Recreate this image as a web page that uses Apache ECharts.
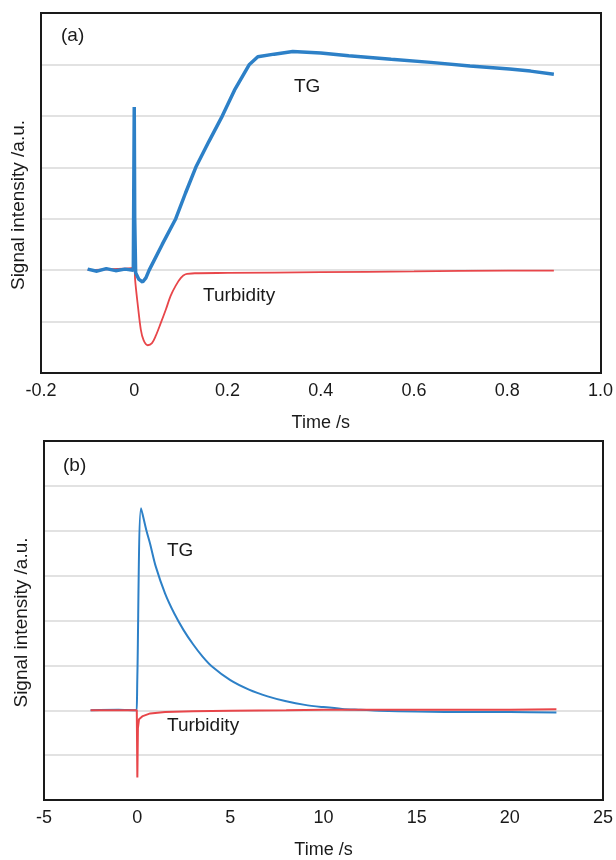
<!DOCTYPE html>
<html lang="en" style="height: 100%">
<head>
  <meta charset="utf-8">
</head>
<body style="height: 100%; margin: 0; background: #fff">
  <div id="container" style="width: 616px; height: 860px"></div>
  <script type="text/javascript" src="https://cdn.jsdelivr.net/npm/echarts@6/dist/echarts.min.js"></script>
  <script type="text/javascript">
    // panel (a): short time scale
    var tgA_t = [-0.1, -0.08, -0.06, -0.04, -0.02, -0.002, 0, 0.001, 0.003, 0.01, 0.018, 0.025, 0.032, 0.06, 0.089, 0.11, 0.132, 0.16, 0.189, 0.215, 0.247, 0.265, 0.3, 0.34, 0.4, 0.46, 0.551, 0.636, 0.72, 0.805, 0.85, 0.9];
    var tgA_v = [0.02, -0.02, 0.03, -0.01, 0.02, 0, 3.17, 1.0, -0.05, -0.18, -0.23, -0.15, 0, 0.5, 1.0, 1.5, 2.0, 2.5, 3.0, 3.5, 4.0, 4.15, 4.2, 4.25, 4.22, 4.17, 4.1, 4.04, 3.97, 3.91, 3.87, 3.81];
    var turbA_t = [-0.1, -0.05, -0.002, 0, 0.002, 0.007, 0.014, 0.02, 0.029, 0.038, 0.046, 0.056, 0.068, 0.078, 0.089, 0.1, 0.11, 0.13, 0.2, 0.4, 0.6, 0.8, 0.9];
    var turbA_v = [0, 0.02, 0.05, 0.18, -0.2, -0.63, -1.15, -1.36, -1.46, -1.42, -1.28, -1.05, -0.76, -0.5, -0.3, -0.15, -0.08, -0.06, -0.055, -0.04, -0.025, -0.01, -0.01];

    // panel (b): long time scale
    var tgB_t = [-2.5, -1, -0.02, 0, 0.01, 0.21, 0.5, 0.7, 1.0, 1.5, 2.0, 2.5, 3.0, 3.5, 4.0, 5.0, 6.0, 7.0, 8.0, 9.0, 10.0, 11.0, 12.0, 13.0, 15.0, 18.0, 20.0, 22.5];
    var tgB_v = [0, 0.01, 0, 0, 0.75, 4.5, 4.0, 3.7, 3.2, 2.6, 2.15, 1.78, 1.47, 1.2, 0.98, 0.67, 0.46, 0.31, 0.2, 0.12, 0.07, 0.03, 0.01, -0.01, -0.03, -0.04, -0.04, -0.05];
    var turbB_t = [-2.5, -0.02, 0, 0.01, 0.04, 0.1, 0.3, 0.7, 1.5, 3, 5, 8, 10, 13, 16, 20, 22.5];
    var turbB_v = [0, 0, 0, -1.5, -0.4, -0.2, -0.13, -0.07, -0.04, -0.02, -0.01, 0, 0.01, 0.01, 0.01, 0.01, 0.02];

    var xTicksA = [-0.2, 1.0, 0.2];
    var xTicksB = [-5, 25, 5];

    function pairs(t, v) {
      return t.map(function (x, i) { return [x, v[i]]; });
    }

    var blue = '#2d80c7';
    var red = '#e8464a';
    var ink = '#1a1a1a';
    var font = 'Liberation Sans, Arial, sans-serif';

    var dom = document.getElementById('container');
    var myChart = echarts.init(dom, null, { renderer: 'canvas' });

    function xAxisFor(idx, ticks, fmt) {
      return {
        gridIndex: idx,
        type: 'value',
        min: ticks[0],
        max: ticks[1],
        interval: ticks[2],
        name: 'Time /s',
        nameLocation: 'middle',
        nameGap: 41,
        nameTextStyle: { fontSize: 18, color: ink, fontFamily: font },
        axisLine: { show: false },
        axisTick: { show: false },
        splitLine: { show: false },
        axisLabel: { fontSize: 18, color: ink, fontFamily: font, margin: 9, formatter: fmt }
      };
    }

    function yAxisFor(idx, min, max, pad) {
      return {
        gridIndex: idx,
        type: 'value',
        min: min,
        max: max,
        interval: 1,
        name: 'Signal intensity /a.u.',
        nameLocation: 'middle',
        nameGap: 13,
        nameTextStyle: { fontSize: 19, color: ink, fontFamily: font, padding: pad },
        axisLine: { show: false },
        axisTick: { show: false },
        axisLabel: { show: false },
        splitLine: { lineStyle: { color: '#d9d9d9', width: 1.5 } }
      };
    }

    function txt(x, y, s) {
      return { type: 'text', left: x, top: y, z: 50, style: { text: s, fill: ink, font: '19px ' + font } };
    }

    function frame(x, y, w, h) {
      return { type: 'rect', z: 100, silent: true, shape: { x: x, y: y, width: w, height: h }, style: { fill: null, stroke: ink, lineWidth: 2 } };
    }

    var option = {
      animation: false,
      grid: [
        { left: 41, top: 13, width: 560, height: 360 },
        { left: 44, top: 441, width: 559, height: 359 }
      ],
      xAxis: [
        xAxisFor(0, xTicksA, function (v) { return v === 0 ? '0' : v.toFixed(1); }),
        xAxisFor(1, xTicksB, function (v) { return String(v); })
      ],
      yAxis: [
        yAxisFor(0, -2, 5, [0, 24, 0, 0]),
        yAxisFor(1, -2, 6, [0, 4, 0, 0])
      ],
      series: [
        { name: 'Turbidity (a)', type: 'line', xAxisIndex: 0, yAxisIndex: 0, data: pairs(turbA_t, turbA_v), showSymbol: false, smooth: 0.3, lineStyle: { color: red, width: 1.8 } },
        { name: 'TG (a)', type: 'line', xAxisIndex: 0, yAxisIndex: 0, data: pairs(tgA_t, tgA_v), showSymbol: false, lineStyle: { color: blue, width: 3.5 } },
        { name: 'TG (b)', type: 'line', xAxisIndex: 1, yAxisIndex: 1, data: pairs(tgB_t, tgB_v), showSymbol: false, smooth: 0.3, lineStyle: { color: blue, width: 2 } },
        { name: 'Turbidity (b)', type: 'line', xAxisIndex: 1, yAxisIndex: 1, data: pairs(turbB_t, turbB_v), showSymbol: false, lineStyle: { color: red, width: 2 } }
      ],
      graphic: [
        frame(41, 13, 560, 360),
        frame(44, 441, 559, 359),
        txt(61, 26, '(a)'),
        txt(294, 77, 'TG'),
        txt(203, 286, 'Turbidity'),
        txt(63, 456, '(b)'),
        txt(167, 541, 'TG'),
        txt(167, 716, 'Turbidity')
      ]
    };

    myChart.setOption(option);
    window.addEventListener('resize', myChart.resize);
  </script>
</body>
</html>
